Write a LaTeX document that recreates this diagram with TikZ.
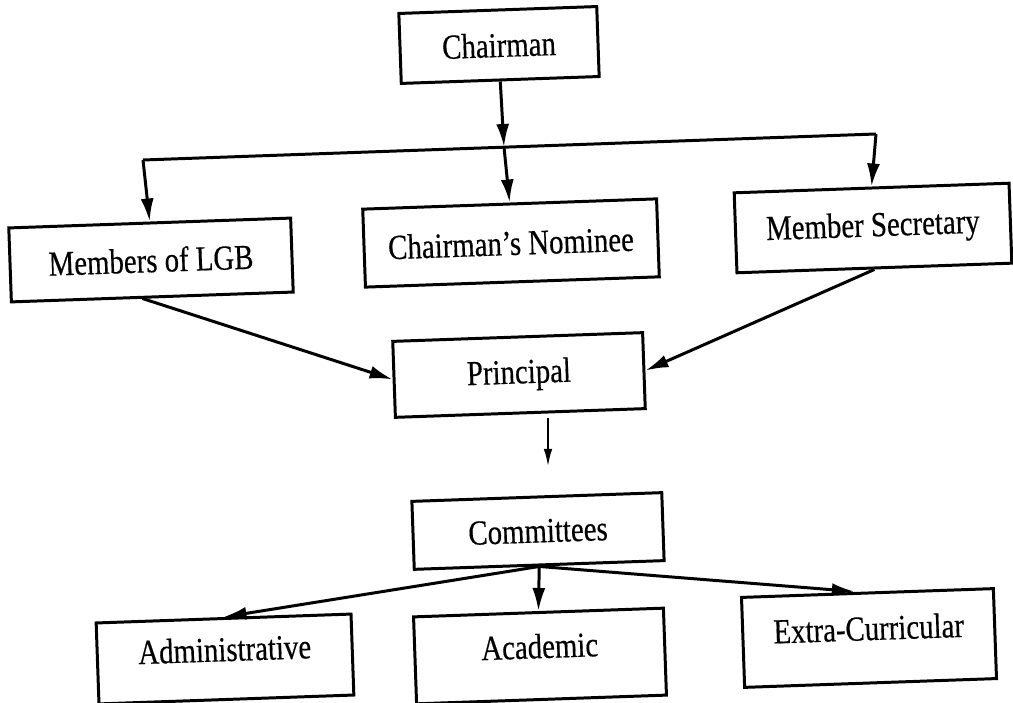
\documentclass[tikz,border=0pt]{standalone}
\usepackage{fontspec}
\setmainfont{Liberation Serif}[FakeStretch=0.82,FakeBold=0.4]
\usetikzlibrary{arrows.meta}

\begin{document}
\begin{tikzpicture}[x=0.2mm,y=-0.2mm,->,>={Latex[length=4.6mm,width=2.6mm]},line width=1.7pt,
  box/.style={draw,rectangle,rotate=2,inner sep=2pt,font=\fontsize{20}{24}\selectfont},
  lowbox/.style={box,text depth=0.4cm}]

  \useasboundingbox (0,0) rectangle (1013,703);

  \node[box,minimum width=3.96cm,minimum height=1.4cm]     (Chairman)   at (499,45)  {Chairman};
  \node[box,minimum width=5.64cm,minimum height=1.48cm]    (LGB)        at (151,260) {Members of LGB};
  \node[box,minimum width=5.88cm,minimum height=1.56cm]    (Nominee)    at (511,243) {Chairman's Nominee};
  \node[box,minimum width=5.5cm,minimum height=1.6cm]      (Sec)        at (873,228) {Member Secretary};
  \node[box,minimum width=5cm,minimum height=1.52cm]       (Principal)  at (519,375) {Principal};
  \node[box,minimum width=5cm,minimum height=1.36cm]       (Committees) at (538,531) {Committees};
  \node[lowbox,minimum width=5.1cm,minimum height=1.62cm]  (Admin)      at (225,659) {Administrative};
  \node[lowbox,minimum width=5cm,minimum height=1.74cm]    (Academic)   at (540,656) {Academic};
  \node[lowbox,minimum width=5.04cm,minimum height=1.8cm]  (Extra)      at (869,638) {Extra-Curricular};

  \coordinate (jc) at (504,147);
  \coordinate (bL) at (143,160);
  \coordinate (bR) at (876,134);
  \coordinate (pa) at (548,418);
  \coordinate (pb) at (548,466);

  \draw[-] (bL) -- (bR);

  \path (Chairman.south) edge (jc)
        (bL) edge (LGB.north)
        (jc) edge (Nominee.north)
        (bR) edge (Sec.north)
        ([xshift=-2mm]LGB.south) edge (Principal.west)
        (Sec.south) edge (Principal.east)
        (Committees.south) edge (Admin.north)
                           edge (Academic.north)
                           edge ([xshift=-2.5mm]Extra.north);
  \path (pa) edge [line width=0.9pt,>={Latex[length=3.4mm,width=1.7mm]}] (pb);
\end{tikzpicture}
\end{document}
